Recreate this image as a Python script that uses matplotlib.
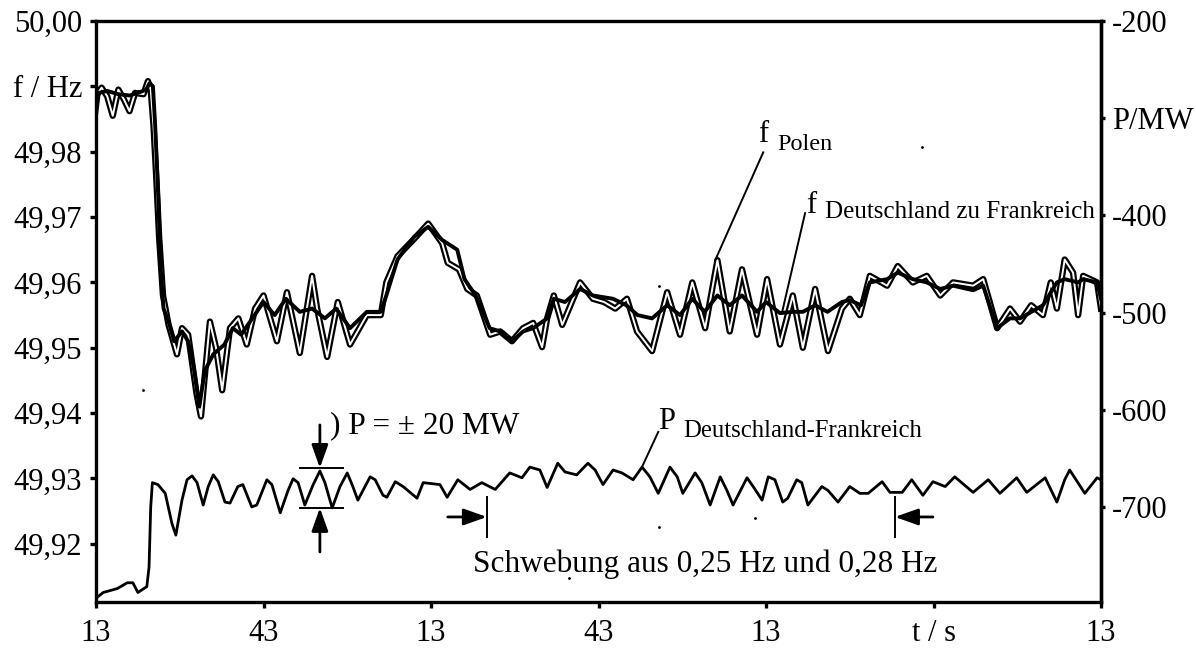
import numpy as np
import matplotlib.pyplot as plt

plt.rcParams['font.family'] = ['Liberation Serif', 'DejaVu Serif']

# frequency Deutschland zu Frankreich (smooth, solid black)
t_dfr = [0, 0.5, 2, 4, 6, 7.5, 9, 9.6, 10.2, 10.6,
         11.2, 11.6, 12.1, 13, 14, 15.4, 16.5, 17.5, 18.5, 19.5,
         21, 23, 24.5, 26, 28, 30, 32, 34, 36.5, 38.7,
         41, 43, 45.5, 48.5, 51, 52, 54, 57, 59.5, 62,
         64.7, 66, 68, 70.5, 72.4, 74.5, 76.5, 78.3, 80.8, 82,
         84, 86.7, 89, 92.6, 95, 97, 99.6, 102.3, 104.6, 106.8,
         109, 111.3, 113.5, 115.7, 118.4, 120, 122.5, 124.8, 126.6, 128.8,
         131, 133.6, 135, 137, 138.6, 141.7, 143.6, 146.3, 148.8, 151.2,
         153.5, 157.1, 158.9, 161.4, 163.7, 165.5, 169.6, 172.1, 173.5, 175.9,
         176.8, 179.3, 180]
f_dfr = [49.9855, 49.9890, 49.9893, 49.9888, 49.9886, 49.9890, 49.9895, 49.9905, 49.9900, 49.9840,
         49.9720, 49.9620, 49.9560, 49.9540, 49.9510, 49.9525, 49.9510, 49.9470, 49.9410, 49.9465,
         49.9490, 49.9505, 49.9530, 49.9520, 49.9545, 49.9570, 49.9550, 49.9575, 49.9555, 49.9560,
         49.9545, 49.9560, 49.9530, 49.9555, 49.9555, 49.9580, 49.9635, 49.9670, 49.9685, 49.9665,
         49.9650, 49.9605, 49.9580, 49.9530, 49.9525, 49.9510, 49.9525, 49.9530, 49.9545, 49.9575,
         49.9570, 49.9590, 49.9580, 49.9575, 49.9565, 49.9550, 49.9545, 49.9565, 49.9550, 49.9575,
         49.9555, 49.9580, 49.9565, 49.9580, 49.9555, 49.9570, 49.9553, 49.9555, 49.9555, 49.9565,
         49.9555, 49.9570, 49.9573, 49.9565, 49.9600, 49.9605, 49.9615, 49.9605, 49.9600, 49.9590,
         49.9595, 49.9588, 49.9595, 49.9530, 49.9545, 49.9545, 49.9565, 49.9600, 49.9605, 49.9600,
         49.9605, 49.9600, 49.9575]

# frequency Polen (oscillating, hollow trace)
t_pol = [0, 1, 2, 3, 4, 5, 6, 7, 8.5, 9.3,
         9.8, 10.3, 10.8, 11.3, 12, 13, 14.5, 15.4, 16.5, 18,
         18.8, 20.4, 21.5, 22.6, 24, 25.5, 27, 28.5, 30, 32.4,
         34.2, 36.5, 38.7, 39.6, 41.4, 43.3, 45.5, 48.5, 51, 52,
         54, 56.8, 59.5, 62, 63, 65, 66.5, 68.2, 70.6, 72.4,
         74.5, 76.5, 78.3, 79.9, 80.8, 82, 83.5, 86.7, 89, 91,
         93, 95.1, 96.9, 99.6, 102.3, 104.6, 106.8, 109.1, 111.3, 113.5,
         115.7, 118.4, 120.2, 122.5, 124.8, 126.6, 128.8, 131.1, 133.6, 135,
         136.8, 138.6, 141.7, 143.6, 146.3, 148.8, 151.2, 153.5, 157.1, 158.9,
         161.4, 163.7, 165.5, 167.5, 169.6, 171, 172.1, 173.5, 175, 175.9,
         176.8, 179.3, 180]
f_pol = [49.9885, 49.9898, 49.9885, 49.9855, 49.9895, 49.9880, 49.9862, 49.9890, 49.9888, 49.9908,
         49.9895, 49.9840, 49.9760, 49.9670, 49.9580, 49.9535, 49.9490, 49.9530, 49.9520, 49.9430,
         49.9395, 49.9540, 49.9500, 49.9435, 49.9530, 49.9545, 49.9505, 49.9560, 49.9580, 49.9510,
         49.9585, 49.9492, 49.9610, 49.9560, 49.9486, 49.9570, 49.9505, 49.9550, 49.9550, 49.9600,
         49.9640, 49.9665, 49.9690, 49.9660, 49.9630, 49.9620, 49.9590, 49.9580, 49.9520, 49.9525,
         49.9510, 49.9530, 49.9538, 49.9501, 49.9545, 49.9580, 49.9535, 49.9600, 49.9575, 49.9570,
         49.9560, 49.9575, 49.9525, 49.9495, 49.9585, 49.9520, 49.9600, 49.9530, 49.9634, 49.9525,
         49.9620, 49.9520, 49.9605, 49.9505, 49.9580, 49.9500, 49.9590, 49.9495, 49.9560, 49.9575,
         49.9550, 49.9610, 49.9595, 49.9625, 49.9600, 49.9610, 49.9580, 49.9600, 49.9595, 49.9605,
         49.9530, 49.9560, 49.9540, 49.9565, 49.9550, 49.9600, 49.9560, 49.9635, 49.9615, 49.9550,
         49.9610, 49.9600, 49.9560]

# power Deutschland-Frankreich (right axis)
t_p = [0.2, 1.3, 3.8, 5.6, 6.6, 7.5, 9.1, 9.5, 9.8, 10.1,
       11.1, 12.4, 13.6, 14.3, 15.4, 16.3, 17.2, 18.1, 19.2, 20.1,
       21.0, 21.9, 23.1, 24.0, 25.4, 26.3, 27.9, 28.8, 30.6, 31.5,
       33.0, 34.4, 35.3, 36.2, 37.4, 38.9, 40.1, 41.0, 42.3, 43.7,
       45.0, 46.0, 46.9, 49.1, 50.0, 51.4, 52.1, 53.6, 55.0, 57.5,
       58.6, 61.6, 62.9, 64.8, 67.0, 69.1, 71.5, 74.1, 76.3, 77.7,
       79.5, 80.8, 82.7, 84.0, 86.1, 88.1, 89.4, 90.8, 92.6, 94.2,
       96.2, 97.8, 99.2, 100.7, 102.8, 104.1, 105.1, 107.3, 108.5, 110.0,
       111.8, 113.0, 114.1, 116.6, 117.7, 119.3, 120.4, 121.6, 123.0, 123.9,
       125.5, 126.4, 127.5, 130.0, 131.1, 132.9, 135.0, 136.8, 138.3, 140.8,
       142.2, 144.4, 146.1, 148.1, 149.9, 152.1, 153.8, 157.1, 159.8, 161.9,
       164.9, 166.7, 170.0, 172.1, 173.5, 174.4, 177.1, 179.3, 180]
p_dfr = [-793, -788, -784, -778, -778, -788, -782, -762, -700, -675,
         -677, -686, -717, -729, -693, -672, -668, -675, -698, -679,
         -667, -674, -695, -696, -679, -677, -700, -698, -672, -677,
         -706, -683, -671, -675, -698, -677, -663, -675, -701, -679,
         -665, -679, -693, -669, -672, -688, -690, -674, -679, -691,
         -675, -677, -690, -672, -682, -675, -682, -665, -670, -659,
         -662, -680, -655, -664, -667, -655, -662, -677, -662, -665,
         -672, -659, -669, -686, -659, -669, -686, -665, -675, -698,
         -669, -683, -698, -670, -679, -693, -669, -672, -695, -691,
         -672, -675, -698, -679, -683, -695, -679, -686, -686, -674,
         -685, -685, -672, -688, -674, -679, -669, -685, -672, -686,
         -670, -685, -670, -695, -672, -662, -686, -670, -672]

f_ticks = [49.92, 49.93, 49.94, 49.95, 49.96, 49.97, 49.98, 49.99, 50.00]
f_labels = ['49,92', '49,93', '49,94', '49,95', '49,96', '49,97', '49,98', 'f / Hz', '50,00']
p_ticks = [-200, -300, -400, -500, -600, -700]
p_labels = ['-200', 'P/MW', '-400', '-500', '-600', '-700']
t_ticks = [0, 30, 60, 90, 120, 150, 180]
t_labels = ['13', '43', '13', '43', '13', 't / s', '13']

# scan specks (t, f)
speck_t = [147.9, 100.8, 8.4, 100.8, 118.0, 84.7]
speck_f = [49.9807, 49.9594, 49.9435, 49.9226, 49.9240, 49.9148]

W, H = 1196, 648
def px(x, y):
    return x / W, 1 - y / H

fig = plt.figure(figsize=(W / 100, H / 100), dpi=100)
ax = fig.add_axes([96 / W, 1 - 602 / H, 1005 / W, 581 / H])

ax.plot(t_pol, f_pol, color='k', lw=4.6)
ax.plot(t_pol, f_pol, color='w', lw=1.4)
ax.plot(t_dfr, f_dfr, color='k', lw=2.8)
ax.plot(speck_t, speck_f, 'k.', ms=2)
ax.set_xlim(0, 180)
ax.set_ylim(49.9111, 50.0)

ax2 = ax.twinx()
ax2.plot(t_p, p_dfr, color='k', lw=2.0)
ax2.set_ylim(-797.8, -200)

ax.set_xticks(t_ticks, t_labels)
ax.set_yticks(f_ticks, f_labels)
ax2.set_yticks(p_ticks, p_labels)
ax.tick_params(axis='both', direction='out', length=4, width=2.4, labelsize=22, pad=6)
ax.tick_params(axis='x', pad=8)
ax2.tick_params(axis='y', direction='out', length=3, width=2.4, labelsize=22, pad=5)
for s in ax.spines.values():
    s.set_linewidth(2.4)
for name, s in ax2.spines.items():
    s.set_visible(name == 'right')
    s.set_linewidth(2.4)

# labels of the traces
fig.text(*px(763, 142), 'f', fontsize=22, ha='center', va='baseline')
fig.text(*px(777, 150), 'Polen', fontsize=17.5, ha='left', va='baseline')
ax.plot([119.5, 110.9], [49.9799, 49.9634], color='k', lw=1.4)

fig.text(*px(811, 213), 'f', fontsize=22, ha='center', va='baseline')
fig.text(*px(825, 218), 'Deutschland zu Frankreich', fontsize=18, ha='left', va='baseline')
ax.plot([127.0, 122.9], [49.9706, 49.9555], color='k', lw=1.4)

fig.text(*px(658, 429), 'P', fontsize=22, ha='left', va='baseline')
fig.text(*px(683, 437), 'Deutschland-Frankreich', fontsize=17.8, ha='left', va='baseline')
ax2.plot([100.7, 97.8], [-622.8, -658.8], color='k', lw=1.4)

# amplitude marker
fig.text(*px(330, 433), ') P = \u00b1 20 MW', fontsize=22.5, ha='left', va='baseline')
arr = dict(arrowstyle='-|>,head_length=0.7,head_width=0.25', color='k', lw=2,
           mutation_scale=20, shrinkA=0, shrinkB=0)
ax2.annotate('', xy=(40.1, -659.9), xytext=(40.1, -615.6), arrowprops=arr)
ax2.annotate('', xy=(40.1, -701.0), xytext=(40.1, -746.3), arrowprops=arr)
ax2.plot([36.5, 44.2], [-659.9, -659.9], color='k', lw=1.4)
ax2.plot([36.5, 44.2], [-701.0, -701.0], color='k', lw=1.4)

# beat marker
ax2.annotate('', xy=(70.0, -710.3), xytext=(63.0, -710.3), arrowprops=arr)
ax2.plot([70.0, 70.0], [-689.7, -730.9], color='k', lw=1.4)
ax2.annotate('', xy=(143.1, -710.3), xytext=(149.9, -710.3), arrowprops=arr)
ax2.plot([143.1, 143.1], [-689.7, -730.9], color='k', lw=1.4)
fig.text(*px(473, 572), 'Schwebung aus 0,25 Hz und 0,28 Hz', fontsize=22.5,
         ha='left', va='baseline')

fig.savefig('out.png', dpi=100)
